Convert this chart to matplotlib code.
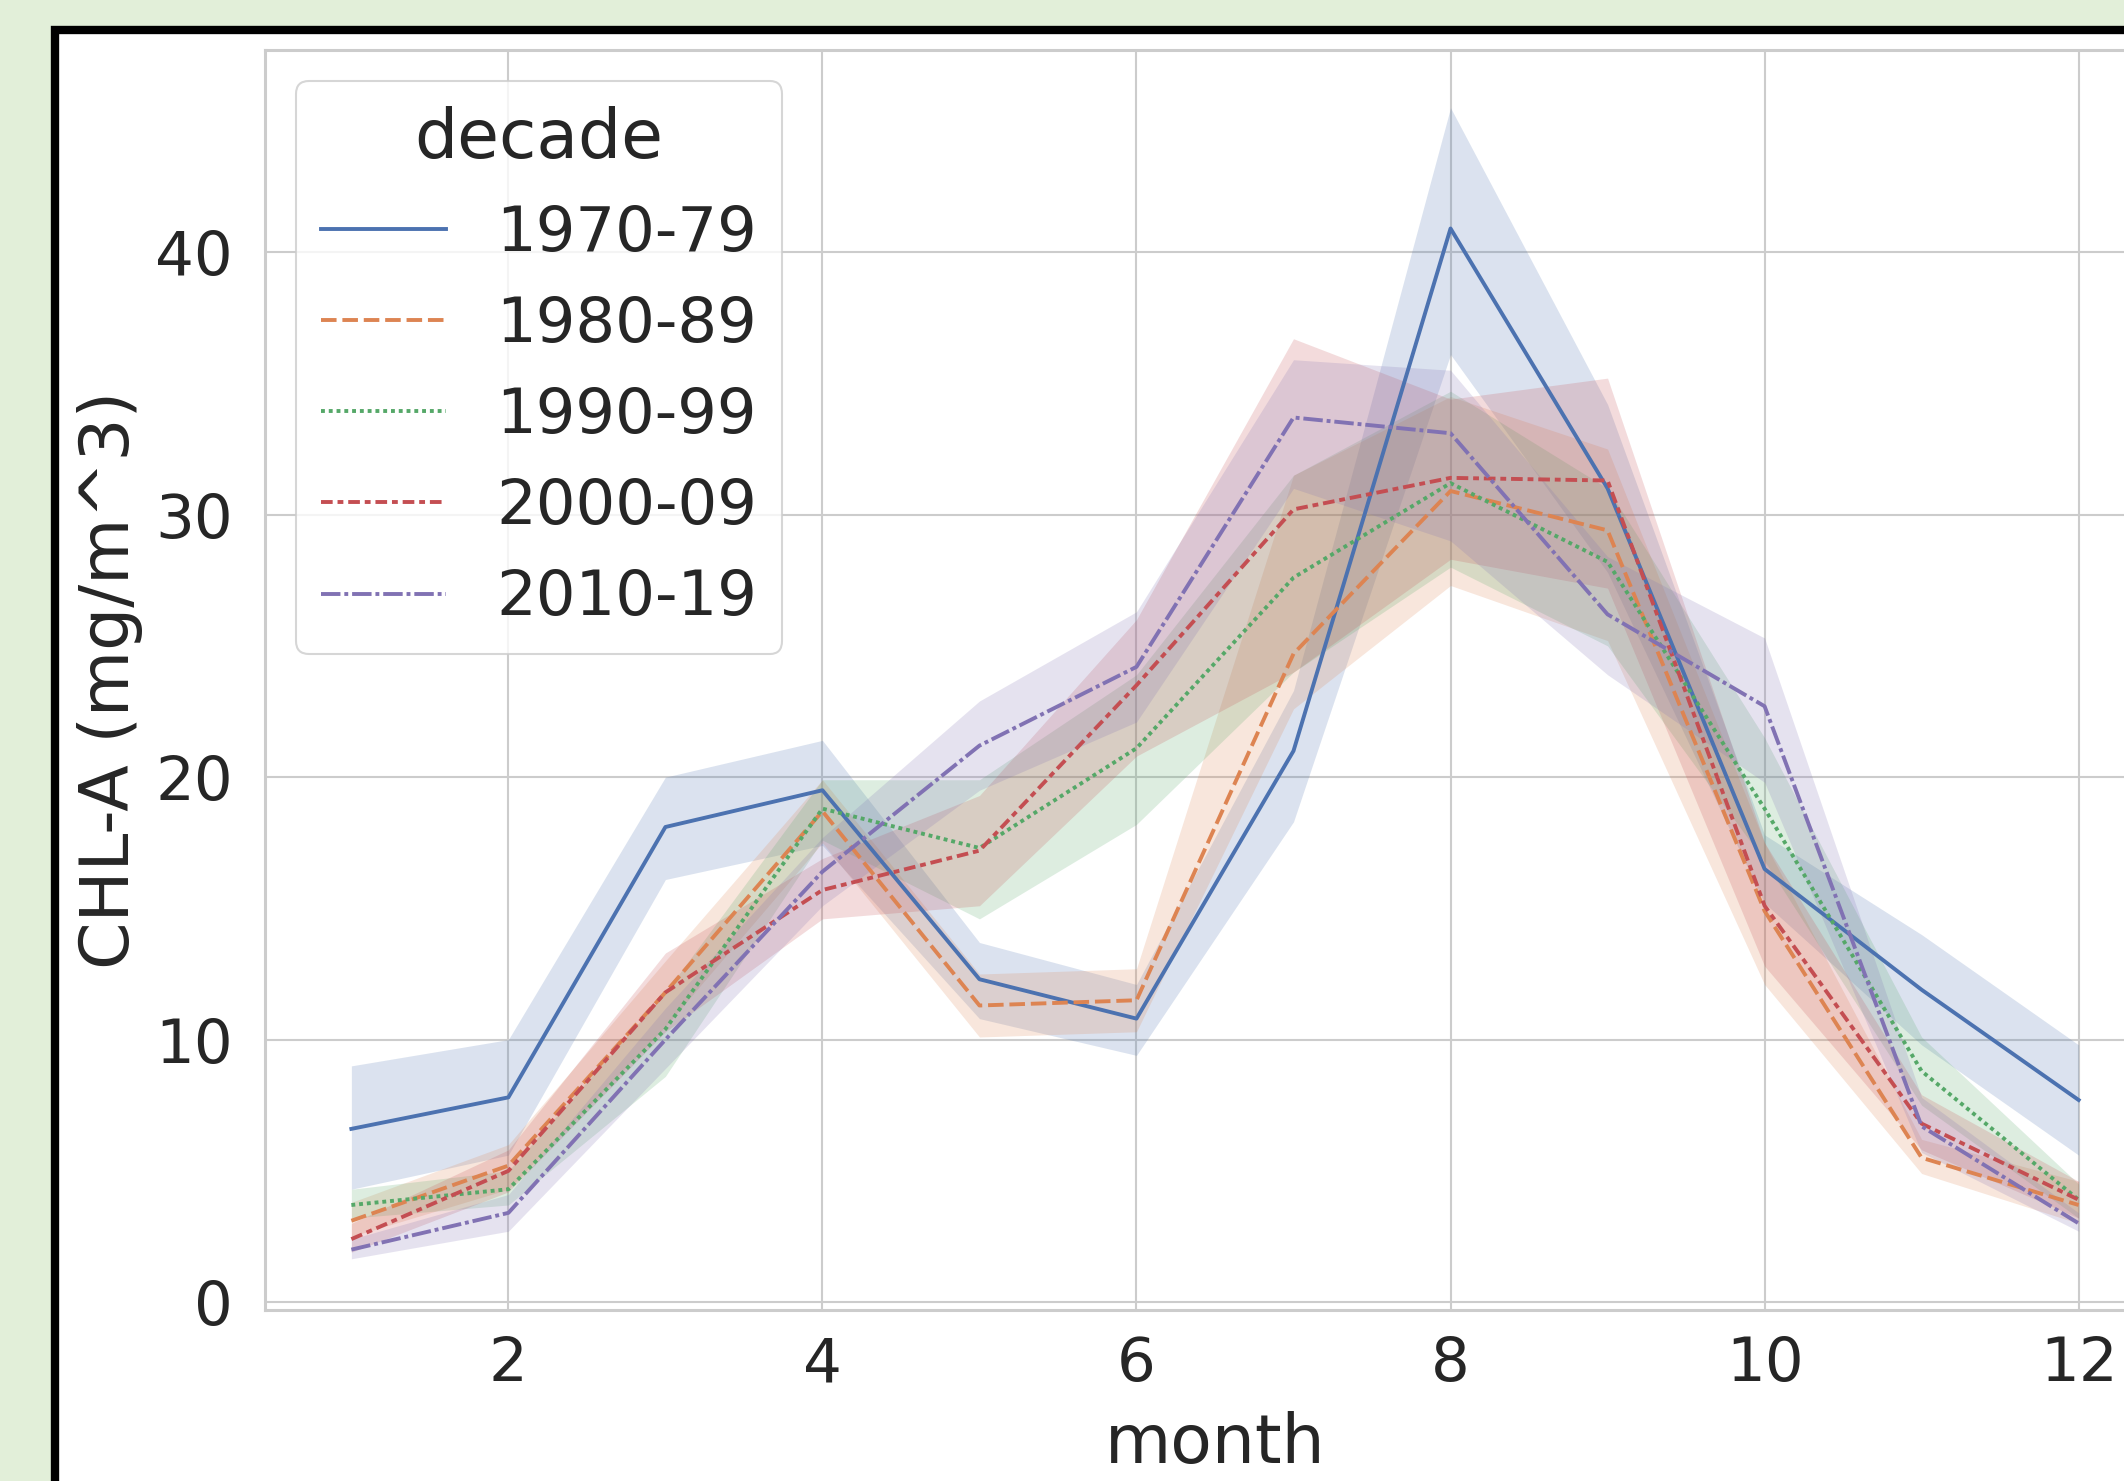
import matplotlib
matplotlib.use("Agg")
import matplotlib.pyplot as plt
from matplotlib.patches import Rectangle

# monthly mean CHL-A per decade, with the shaded confidence band (lo / hi)
months = [1, 2, 3, 4, 5, 6, 7, 8, 9, 10, 11, 12]
decades = ["1970-79", "1980-89", "1990-99", "2000-09", "2010-19"]

mean_1970 = [6.6, 7.8, 18.1, 19.5, 12.3, 10.8, 21.0, 40.9, 31.0, 16.5, 11.9, 7.7]
lo_1970 = [4.3, 5.6, 16.1, 17.4, 10.8, 9.4, 18.3, 36.1, 27.8, 15.2, 9.8, 5.6]
hi_1970 = [9.0, 10.0, 20.0, 21.4, 13.7, 12.1, 23.3, 45.5, 34.2, 17.8, 14.0, 9.8]

mean_1980 = [3.1, 5.2, 11.8, 18.7, 11.3, 11.5, 24.7, 30.9, 29.4, 14.9, 5.5, 3.7]
lo_1980 = [2.5, 4.3, 10.5, 17.5, 10.1, 10.3, 22.6, 27.3, 25.2, 12.1, 4.9, 3.0]
hi_1980 = [3.8, 6.0, 13.0, 19.9, 12.5, 12.7, 31.5, 34.5, 32.5, 17.5, 6.2, 4.6]

mean_1990 = [3.7, 4.3, 10.4, 18.8, 17.3, 21.1, 27.6, 31.2, 28.2, 18.8, 8.8, 3.9]
lo_1990 = [3.2, 3.7, 8.6, 17.6, 14.6, 18.2, 24.0, 28.0, 25.0, 16.8, 7.5, 3.2]
hi_1990 = [4.3, 5.0, 11.8, 19.9, 19.9, 23.9, 31.5, 34.7, 31.0, 21.5, 10.1, 4.5]

mean_2000 = [2.4, 5.0, 11.8, 15.7, 17.2, 23.5, 30.2, 31.4, 31.3, 15.1, 6.8, 3.9]
lo_2000 = [1.9, 4.2, 10.3, 14.6, 15.1, 20.8, 24.0, 28.3, 27.2, 12.8, 5.8, 3.2]
hi_2000 = [3.0, 5.8, 13.3, 16.9, 19.3, 26.0, 36.7, 34.4, 35.2, 17.5, 7.9, 4.6]

mean_2010 = [2.0, 3.4, 10.0, 16.4, 21.2, 24.2, 33.7, 33.1, 26.2, 22.7, 6.7, 3.0]
lo_2010 = [1.65, 2.7, 8.9, 15.1, 19.5, 22.1, 31.0, 29.0, 23.9, 19.8, 5.7, 2.7]
hi_2010 = [2.4, 4.1, 11.2, 17.7, 22.9, 26.3, 35.9, 35.5, 28.4, 25.3, 7.8, 3.4]

means = [mean_1970, mean_1980, mean_1990, mean_2000, mean_2010]
lows = [lo_1970, lo_1980, lo_1990, lo_2000, lo_2010]
highs = [hi_1970, hi_1980, hi_1990, hi_2000, hi_2010]

# seaborn "deep" colours and the default lineplot dash patterns
colors = ["#4c72b0", "#dd8452", "#55a868", "#c44e52", "#8172b3"]
dashes = [(None, None), (4, 1.5), (1, 1), (3, 1.25, 1.5, 1.25), (5, 1, 1, 1)]

plt.rcParams["font.family"] = "DejaVu Sans"
plt.rcParams["text.color"] = ".15"
plt.rcParams["axes.labelcolor"] = ".15"
plt.rcParams["xtick.color"] = ".15"
plt.rcParams["ytick.color"] = ".15"

fig = plt.figure(figsize=(21.24, 14.81), dpi=100)
fig.patch.set_facecolor("#e2efd9")

# black frame of the screenshot (runs off to the right and bottom)
fig.add_artist(Rectangle((55 / 2124, -0.1), 1.2, 1.1 - 30 / 1481,
                         transform=fig.transFigure, facecolor="white",
                         edgecolor="black", linewidth=6, zorder=0))

ax = fig.add_axes([265 / 2124, 171 / 1481, 1900 / 2124, 1260 / 1481])
ax.set_facecolor("white")

for i, name in enumerate(decades):
    ax.fill_between(months, lows[i], highs[i], color=colors[i], alpha=0.2,
                    linewidth=0)
    line, = ax.plot(months, means[i], color=colors[i], linewidth=2.8,
                    label=name)
    if dashes[i][0] is not None:
        line.set_dashes(dashes[i])

ax.set_xlim(0.45, 12.55)
ax.set_ylim(-0.3, 47.7)
ax.set_xticks([2, 4, 6, 8, 10, 12])
ax.set_yticks([0, 10, 20, 30, 40])
ax.grid(True, color=".8", linewidth=1.5)
ax.set_axisbelow(True)
for s in ax.spines.values():
    s.set_color(".8")
    s.set_linewidth(2.2)
ax.tick_params(axis="both", length=0, labelsize=44)
ax.tick_params(axis="x", pad=18)
ax.tick_params(axis="y", pad=23)
ax.set_xlabel("month", fontsize=49, labelpad=12)
ax.set_ylabel("CHL-A (mg/m^3)", fontsize=49, labelpad=9)

leg = ax.legend(title="decade", loc="upper left", fontsize=45,
                title_fontsize=49, labelspacing=0.5, handlelength=2.0,
                framealpha=0.8, edgecolor=".8")
leg.get_frame().set_linewidth(1.5)

fig.savefig("out.png", dpi=100)
